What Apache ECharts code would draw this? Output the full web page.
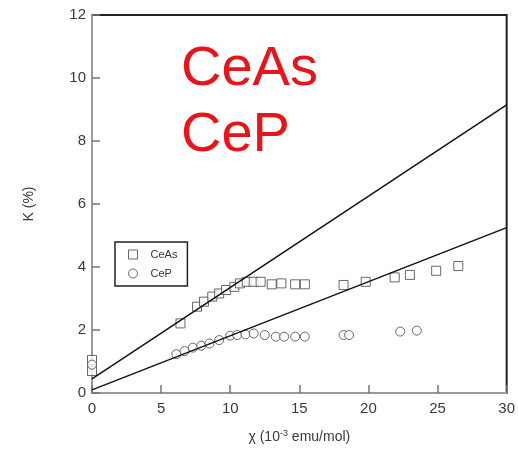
<!DOCTYPE html>
<html>
<head>
<meta charset="utf-8">
<script src="https://cdn.jsdelivr.net/npm/echarts@6/dist/echarts.min.js"></script>
<style>html,body{margin:0;padding:0;background:#fff;}#c{width:518px;height:465px;}</style>
</head>
<body>
<div id="c"></div>
<script>
// Data
const ceAsX = [0, 0, 6.4, 7.6, 8.1, 8.7, 9.2, 9.7, 10.3, 10.7, 11.2, 11.7, 12.2, 13.0, 13.7, 14.7, 15.4, 18.2, 19.8, 21.9, 23.0, 24.9, 26.5];
const ceAsY = [0.7, 1.05, 2.21, 2.74, 2.9, 3.06, 3.16, 3.27, 3.37, 3.48, 3.53, 3.53, 3.53, 3.45, 3.48, 3.45, 3.45, 3.43, 3.53, 3.67, 3.75, 3.88, 4.03];
const cePX = [0, 6.1, 6.7, 7.3, 7.9, 8.5, 9.2, 10.0, 10.5, 11.1, 11.7, 12.5, 13.3, 13.9, 14.7, 15.4, 18.2, 18.6, 22.3, 23.5];
const cePY = [0.9, 1.23, 1.33, 1.44, 1.5, 1.57, 1.68, 1.82, 1.84, 1.86, 1.89, 1.84, 1.79, 1.79, 1.79, 1.79, 1.84, 1.84, 1.95, 1.98];
const fitAsX = [0, 30];
const fitAsY = [0.45, 9.15];
const fitPX = [0, 30];
const fitPY = [0.1, 5.25];
const xTicks = [0, 5, 10, 15, 20, 25, 30];
const yTicks = [0, 2, 4, 6, 8, 10, 12];

const zip = (a, b) => a.map((v, i) => [v, b[i]]);
const chart = echarts.init(document.getElementById('c'));
const font = 'Liberation Sans, Arial, sans-serif';
chart.setOption({
  animation: false,
  backgroundColor: '#fff',
  grid: { left: 92, right: 8, top: 15, bottom: 72, show: true, borderColor: '#222', borderWidth: 2, backgroundColor: 'transparent' },
  xAxis: {
    type: 'value', min: xTicks[0], max: xTicks[xTicks.length - 1], interval: 5,
    axisLine: { show: true, lineStyle: { color: '#999', width: 2 } },
    axisTick: { show: true, inside: true, length: 8, lineStyle: { color: '#777', width: 1.5 } },
    axisLabel: { color: '#3a3a3a', fontSize: 15, fontFamily: font, margin: 8 },
    splitLine: { show: false },
    name: '{a|χ (10}{s|-3}{a| emu/mol)}',
    nameLocation: 'middle', nameGap: 36,
    nameTextStyle: { rich: { a: { fontSize: 14, color: '#3a3a3a', fontFamily: font }, s: { fontSize: 9, color: '#3a3a3a', fontFamily: font, verticalAlign: 'top', padding: [0, 0, 8, 0] } } }
  },
  yAxis: {
    type: 'value', min: yTicks[0], max: yTicks[yTicks.length - 1], interval: 2,
    axisLine: { show: true, lineStyle: { color: '#999', width: 2 } },
    axisTick: { show: true, inside: true, length: 8, lineStyle: { color: '#777', width: 1.5 } },
    axisLabel: { color: '#3a3a3a', fontSize: 15, fontFamily: font, margin: 6 },
    splitLine: { show: false },
    name: 'K (%)', nameLocation: 'middle', nameGap: 56, nameRotate: 90,
    nameTextStyle: { fontSize: 14, color: '#3a3a3a', fontFamily: font }
  },
  legend: {
    left: 115, top: 242, orient: 'vertical',
    borderColor: '#222', borderWidth: 1.5, padding: [7, 10, 7, 13],
    itemGap: 8, itemWidth: 9, itemHeight: 9,
    itemStyle: { color: '#fff', borderColor: '#444', borderWidth: 1 },
    textStyle: { fontSize: 11, color: '#333', fontFamily: font, padding: [0, 0, 0, 8] },
    data: [{ name: 'CeAs', icon: 'rect' }, { name: 'CeP', icon: 'circle' }]
  },
  graphic: [
    { type: 'text', left: 181, top: 42, style: { text: 'CeAs', fill: '#e8141a', font: '56px Liberation Sans, Arial, sans-serif' } },
    { type: 'text', left: 181, top: 108, style: { text: 'CeP', fill: '#e8141a', font: '56px Liberation Sans, Arial, sans-serif' } }
  ],
  series: [
    { name: 'fitAs', type: 'line', data: zip(fitAsX, fitAsY), showSymbol: false, lineStyle: { color: '#111', width: 1.5 }, silent: true },
    { name: 'fitP', type: 'line', data: zip(fitPX, fitPY), showSymbol: false, lineStyle: { color: '#111', width: 1.5 }, silent: true },
    { name: 'CeAs', type: 'scatter', symbol: 'rect', symbolSize: 9, data: zip(ceAsX, ceAsY), itemStyle: { color: '#fff', borderColor: '#444', borderWidth: 1 } },
    { name: 'CeP', type: 'scatter', symbol: 'circle', symbolSize: 9, data: zip(cePX, cePY), itemStyle: { color: '#fff', borderColor: '#444', borderWidth: 1 } }
  ]
});
</script>
</body>
</html>
